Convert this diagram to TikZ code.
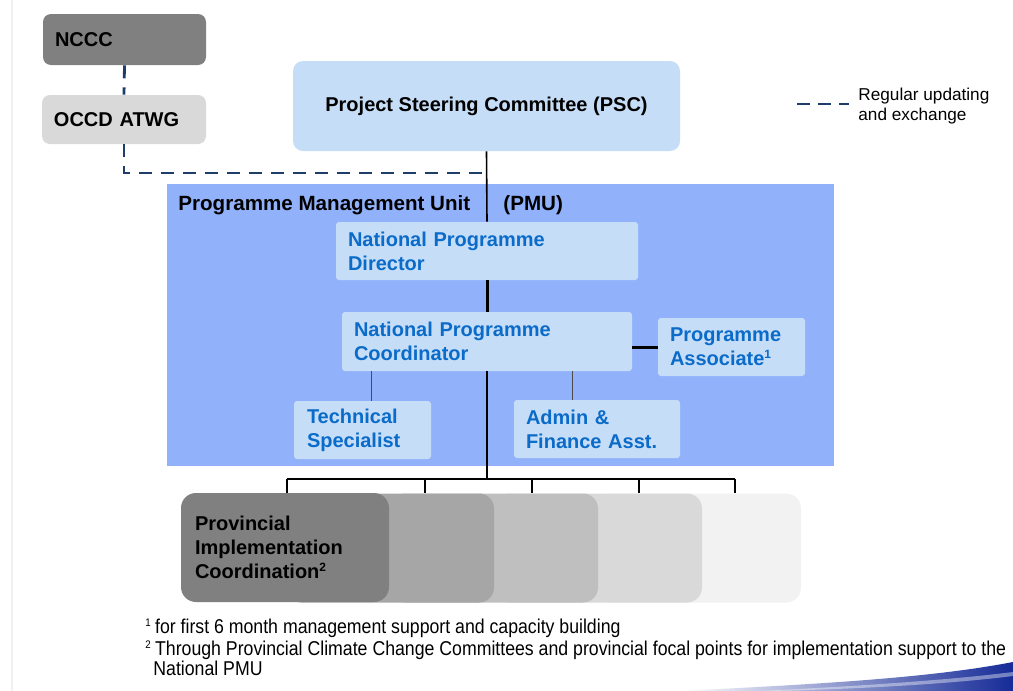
\documentclass[tikz,border=0pt]{standalone}
\usepackage{fontspec}
\setmainfont{Liberation Sans}
\newfontfamily\narrowfont{Liberation Sans}[FakeStretch=0.885]
\usepackage{tikz}
\usetikzlibrary{positioning}
\usetikzlibrary{calc}
\definecolor{psccol}{HTML}{C6DDF8}
\definecolor{pmucol}{HTML}{92B1FB}
\definecolor{staffcol}{HTML}{C6DDF8}
\definecolor{stafftext}{HTML}{0A6BC9}
\definecolor{linkcol}{HTML}{1F3D6B}
\tikzset{
	govbox/.style={rounded corners=4pt, inner xsep=6pt, align=left, font=\bfseries\fontsize{10}{12}\selectfont},
	staffbox/.style={fill=staffcol, rounded corners=1.5pt, inner xsep=6pt, align=left, text=stafftext, font=\bfseries\fontsize{10}{12}\selectfont},
	provbox/.style={rounded corners=7.5pt, minimum width=104pt, minimum height=54.5pt},
	exchange/.style={linkcol, line width=1.4pt, dash pattern=on 6.5pt off 4.5pt},
	orgline/.style={line width=0.8pt},
	footnote/.style={anchor=west, align=left, inner sep=0pt, font=\narrowfont\fontsize{10}{10}\selectfont}
}
\begin{document}
\begin{tikzpicture}[x=0.5pt, y=-0.5pt]
				\useasboundingbox (0,0) rectangle (1013,691);
				\fill[white] (0,0) rectangle (1013,691);
				\draw[gray!12, line width=0.6pt] (12,0) -- (12,691);
				
				% committees
				\node[govbox, fill=black!50, text width=69.5pt, minimum height=25.5pt] (nccc) at (124.5, 39.5) {NCCC};
				\node[govbox, fill=black!15, text width=70pt, minimum height=24.5pt] (occd) at (124, 119.5) {OCCD ATWG};
				\node[govbox, fill=psccol, align=center, minimum width=193.5pt, minimum height=45pt, rounded corners=5pt] (psc) at (486.5, 106) {Project Steering Committee (PSC)};
				
				% programme management unit
				\node[fill=pmucol, minimum width=333.5pt, minimum height=141pt, anchor=north west, inner sep=0pt] (pmu) at (167, 184) {};
				\node[anchor=west, inner sep=0pt, font=\bfseries\fontsize{10.3}{12}\selectfont] (pmuname) at (178, 205) {Programme Management Unit};
				\node[anchor=west, inner sep=0pt, font=\bfseries\fontsize{10.3}{12}\selectfont] (pmuabbr) at (503, 205) {(PMU)};
				
				\node[staffbox, text width=139pt, minimum height=29pt] (npd) at (487, 251) {National Programme\\Director};
				\node[staffbox, text width=133pt, minimum height=29.5pt] (npc) at (487, 341.5) {National Programme\\Coordinator};
				\node[staffbox, text width=61.5pt, minimum height=29pt] (pa) at (731.5, 347) {Programme\\Associate\textsuperscript{\fontsize{6}{6}\selectfont 1}};
				\node[staffbox, text width=55.5pt, minimum height=29pt, inner xsep=6.5pt] (ts) at (362.5, 430) {Technical\\Specialist};
				\node[staffbox, text width=71pt, minimum height=29pt] (afa) at (597, 429) {Admin \&\\Finance Asst.};
				
				% provinces
				\node[provbox, fill=black!5] (pic5) at (697, 548) {};
				\node[provbox, fill=black!15] (pic4) at (598, 548) {};
				\node[provbox, fill=black!25] (pic3) at (494, 548) {};
				\node[provbox, fill=black!35] (pic2) at (390, 548) {};
				\node[provbox, fill=black!50, text width=90pt, inner xsep=7pt, align=left, font=\bfseries\fontsize{10}{12}\selectfont] (pic1) at (285, 547.5) {Provincial\\Implementation\\Coordination\textsuperscript{\fontsize{6}{6}\selectfont 2}};
				
				% regular updating and exchange
				\coordinate (join) at (487, 173);
				\draw[exchange] (nccc.south) -- (occd.north);
				\draw[exchange] (occd.south) |- (join);
				
				% reporting lines
				\coordinate (bus) at (487, 479);
				\coordinate (tsdrop) at (371, 0);
				\coordinate (afadrop) at (572, 0);
				\draw[orgline] (psc.south) -- (npd.north);
				\draw[line width=1.5pt] (npd.south) -- (npc.north);
				\draw[line width=1.5pt] (pa.west -| npc.east) -- (pa.west);
				\draw[black!70, line width=0.5pt] (tsdrop |- npc.south) -- (tsdrop |- ts.north);
				\draw[black!70, line width=0.5pt] (afadrop |- npc.south) -- (afadrop |- afa.north);
				\draw[orgline] (npc.south) -- (bus);
				
				\coordinate (d1) at (287, 479);
				\coordinate (d2) at (425, 479);
				\coordinate (d3) at (532, 479);
				\coordinate (d4) at (639, 479);
				\coordinate (d5) at (735, 479);
				\draw[orgline] (d1) -- (d5);
				\foreach \i in {1,...,5}
					\draw[orgline] (d\i) -- (d\i |- pic1.north);
				
				% legend
				\coordinate (legA) at (797, 104);
				\coordinate (legB) at (849, 104);
				\draw[exchange, dash pattern=on 6.5pt off 4pt] (legA) -- (legB);
				\node[anchor=west, align=left, inner sep=0pt, font=\fontsize{8.6}{10}\selectfont] (legtext) at (858, 106) {Regular updating\\and exchange};
				
				% footnotes
				\node[footnote] (fn1) at (145, 628) {\textsuperscript{\fontsize{5.5}{6}\selectfont 1}\,for first 6 month management support and capacity building};
				\node[footnote] (fn2) at (145, 658) {\textsuperscript{\fontsize{5.5}{6}\selectfont 2}\,Through Provincial Climate Change Committees and provincial focal points for implementation support to the\\\hspace*{4pt}National PMU};
				
				% slide decoration
				\shade[left color=white, right color=linkcol!70!blue] (680,691) .. controls (820,684) and (930,678) .. (1013,662) -- (1013,691) -- cycle;
				\fill[white, opacity=0.4] (760,691) .. controls (860,686) and (950,680) .. (1013,672) -- (1013,676) .. controls (950,684) and (860,689) .. (770,691) -- cycle;
			\end{tikzpicture}
\end{document}
